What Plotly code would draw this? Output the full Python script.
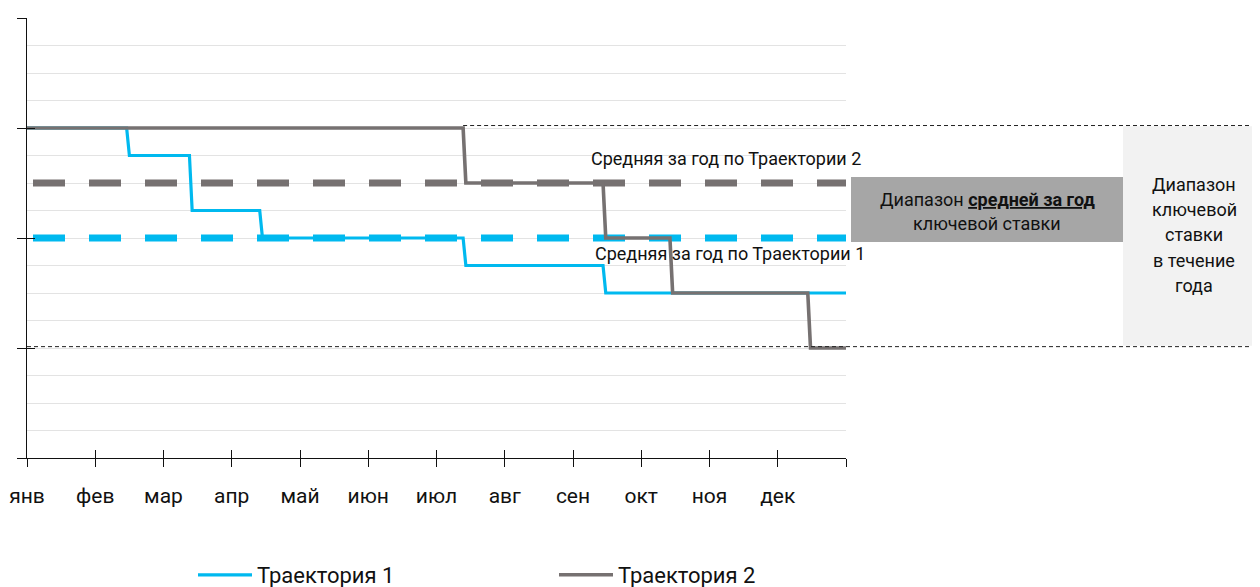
import plotly.graph_objects as go

# ---------------- data ----------------
months = ["янв", "фев", "мар", "апр", "май", "июн", "июл", "авг", "сен", "окт", "ноя", "дек", ""]
month_pos = list(range(13))

t1_change_x = [0, 1.46, 2.38, 3.41, 6.39, 8.44, 12]
t1_level = [12, 11, 9, 8, 7, 6, 6]
t2_change_x = [0, 6.39, 8.44, 9.42, 11.44, 12]
t2_level = [12, 10, 8, 6, 4, 4]

avg1 = 8
avg2 = 10
range_top = 12.09
range_bottom = 4.05
range_top_start = 6.39

name1 = "Траектория 1"
name2 = "Траектория 2"
lbl_avg2 = "Средняя за год по Траектории 2"
lbl_avg1 = "Средняя за год по Траектории 1"
box1_lines = ["Диапазон <b><u>средней за год</u></b>", "ключевой ставки"]
box2_lines = ["Диапазон", "ключевой", "ставки", "в течение", "года"]

# ---------------- style ----------------
BLUE = "#00B9EF"
GRAY = "#767171"
FONT = "Roboto"
OFF = 8  # page body margin
W, H = 1260 - OFF, 587 - OFF
# plot area in window pixels
PX0, PX1, PY0, PY1 = 27, 846, 18, 458
L, R, T, B = PX0 - OFF, (W + OFF) - PX1, PY0 - OFF, (H + OFF) - PY1
SLANT = 0.04


def steps(xs, ys):
    px, py = [xs[0]], [ys[0]]
    for i in range(1, len(xs)):
        if ys[i] != ys[i - 1]:
            px += [xs[i], xs[i] + SLANT]
            py += [ys[i - 1], ys[i]]
        else:
            px.append(xs[i])
            py.append(ys[i])
    return px, py


def fx(px):  # window px -> paper x
    return (px - PX0) / (PX1 - PX0)


def fy(py):  # window px -> paper y
    return (PY1 - py) / (PY1 - PY0)


def dy(py):  # window px -> data y
    return (PY1 - py) / (PY1 - PY0) * 16


fig = go.Figure()

x_start, x_end = month_pos[0], month_pos[-1]

# dashed averages
for val, col in [(avg2, GRAY), (avg1, BLUE)]:
    fig.add_trace(go.Scatter(x=[x_start, x_end + 0.04], y=[val, val], mode="lines",
                             line=dict(color=col, width=7, dash="0px,6px,32px,18px"),
                             showlegend=False, hoverinfo="skip"))

sx1, sy1 = steps(t1_change_x, t1_level)
sx2, sy2 = steps(t2_change_x, t2_level)
fig.add_trace(go.Scatter(x=sx1, y=sy1, mode="lines", name=name1,
                         line=dict(color=BLUE, width=3.2)))
fig.add_trace(go.Scatter(x=sx2, y=sy2, mode="lines", name=name2,
                         line=dict(color=GRAY, width=3.6)))

# dummy trace for overlay axes (inner ticks)
fig.add_trace(go.Scatter(x=[None], y=[None], xaxis="x2", yaxis="y2",
                         showlegend=False, hoverinfo="skip"))

dot = dict(color="#222", width=1, dash="4px,3px")
shapes = [
    dict(type="rect", xref="paper", yref="y", x0=fx(1123), x1=fx(1265),
         y0=range_bottom + 0.03, y1=range_top - 0.03, fillcolor="#F2F2F2", line_width=0, layer="below"),
    dict(type="rect", xref="paper", yref="y", x0=fx(851), x1=fx(1123),
         y0=dy(242), y1=dy(177), fillcolor="#A6A6A6", line_width=0),
    dict(type="line", xref="x", yref="y", x0=range_top_start, x1=12, y0=range_top, y1=range_top, line=dot),
    dict(type="line", xref="paper", yref="y", x0=1, x1=fx(1265), y0=range_top, y1=range_top, line=dot),
    dict(type="line", xref="x", yref="y", x0=0, x1=12, y0=range_bottom, y1=range_bottom, line=dot),
    dict(type="line", xref="paper", yref="y", x0=1, x1=fx(1265), y0=range_bottom, y1=range_bottom, line=dot),
]

txt = dict(color="#111", family=FONT)
ann = [
    dict(text=lbl_avg2, xref="paper", yref="paper", x=fx(863), y=fy(158),
         xanchor="right", yanchor="middle", showarrow=False, font=dict(size=18, **txt)),
    dict(text=lbl_avg1, xref="paper", yref="paper", x=fx(867), y=fy(253),
         xanchor="right", yanchor="middle", showarrow=False, font=dict(size=18, **txt)),
]
for i, line in enumerate(box1_lines):
    ann.append(dict(text=line, xref="paper", yref="paper", x=fx(987), y=fy(199 + 25 * i),
                    xanchor="center", yanchor="middle", showarrow=False, font=dict(size=18, **txt)))
for i, line in enumerate(box2_lines):
    ann.append(dict(text=line, xref="paper", yref="paper", x=fx(1194), y=fy(184 + 25.4 * i),
                    xanchor="center", yanchor="middle", showarrow=False, font=dict(size=18, **txt)))

fig.update_layout(
    width=W, height=H,
    margin=dict(l=L, r=R, t=T, b=B, autoexpand=False),
    paper_bgcolor="white", plot_bgcolor="white",
    font=dict(family=FONT, size=22, color="#111"),
    shapes=shapes, annotations=ann,
    showlegend=True,
    legend=dict(orientation="h", xref="container", yref="container", x=(193 - OFF) / W,
                y=1 - (575 - OFF) / H, xanchor="left", yanchor="middle",
                entrywidth=292, entrywidthmode="pixels", itemwidth=54,
                font=dict(size=22, **txt), bgcolor="rgba(0,0,0,0)"),
    xaxis=dict(range=[x_start, x_end], tickvals=month_pos, ticktext=months, ticks="outside", ticklen=8,
               tickcolor="#111", tickwidth=1, showline=True, linecolor="#111", linewidth=1,
               showgrid=False, zeroline=False, ticklabelstandoff=11, tickfont=dict(size=21)),
    xaxis2=dict(range=[x_start, x_end], overlaying="x", anchor="y", side="bottom", tickvals=month_pos,
                ticks="inside", ticklen=8, tickcolor="#111", tickwidth=1, showticklabels=False,
                showgrid=False, zeroline=False, showline=False),
    yaxis=dict(range=[0, 16], tick0=0, dtick=4, ticks="outside", ticklen=9, tickcolor="#111", tickwidth=1,
               showticklabels=False, showline=True, linecolor="#111", linewidth=1.3,
               showgrid=True, gridcolor="#E3E3E3", gridwidth=1, zeroline=False,
               minor=dict(dtick=1, showgrid=True, gridcolor="#E3E3E3", gridwidth=1, ticks="")),
    yaxis2=dict(range=[0, 16], overlaying="y", anchor="x", side="left", tick0=0, dtick=4,
                ticks="inside", ticklen=8, tickcolor="#111", tickwidth=1, showticklabels=False,
                showgrid=False, zeroline=False, showline=False),
)

fig.write_html("out.html")
